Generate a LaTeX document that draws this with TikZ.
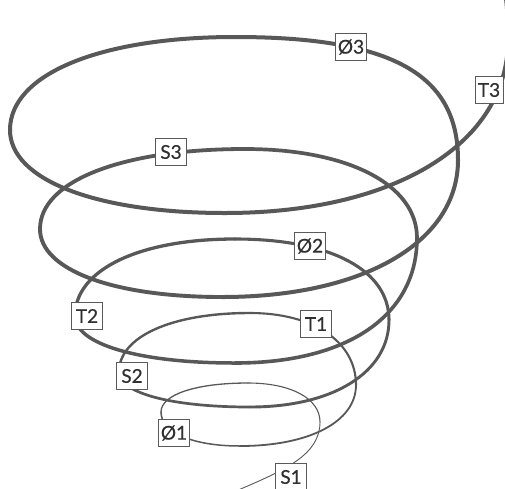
\documentclass[tikz,border=0pt]{standalone}
\usepackage{fontspec}
\setmainfont{Lato}
\newfontfamily\lblfont[FakeBold=0.6]{Lato}
\usetikzlibrary{calc}
\definecolor{spiral}{HTML}{585858}
\definecolor{boxline}{HTML}{5A5A5A}
\definecolor{ink}{HTML}{303030}
\newcommand\spseg[5]{\draw[spiralline,line width=#5pt] (#1) .. controls ($(#1)!#4!(#3)$) and ($(#2)!#4!(#3)$) .. (#2);}
\begin{document}
\begin{tikzpicture}[x=1pt,y=-1pt,
  spiralline/.style={draw=spiral,line cap=round,line join=round},
  lbl/.style={draw=boxline,line width=0.9pt,fill=white,text=ink,inner sep=0pt,
    minimum width=31pt,minimum height=27pt,font=\lblfont\fontsize{19}{19}\selectfont}]
\useasboundingbox (0,0) rectangle (505,488);
\clip (0,0) rectangle (505,488);
\fill[white] (0,0) rectangle (505,488);
% quarter points of the spiral
\coordinate (b0) at (236,491);
\coordinate (r1) at (320,422);
\coordinate (t1) at (248,383);
\coordinate (l1) at (161,412);
\coordinate (b1) at (240,446);
\coordinate (r2) at (356,385);
\coordinate (t2) at (250,313);
\coordinate (l2) at (119,372);
\coordinate (b2) at (250,407);
\coordinate (r3) at (389,320);
\coordinate (t3) at (235,239);
\coordinate (l3) at (75,316);
\coordinate (b3) at (235,363);
\coordinate (r4) at (417,238);
\coordinate (t4) at (245,149);
\coordinate (l4) at (40,229);
\coordinate (b4) at (222,297);
\coordinate (r5) at (458,160);
\coordinate (t5) at (235,37);
\coordinate (l5) at (10,130);
\coordinate (b5) at (225,213);
\coordinate (r6) at (508,40);
\coordinate (e) at (503,-20);
% spiral
\draw[spiralline,line width=0.9pt] (b0) .. controls (285,470) and (320,455) .. (r1);
\spseg{r1}{t1}{r1 |- t1}{0.6}{1.1}
\spseg{t1}{l1}{l1 |- t1}{0.6}{1.3}
\spseg{l1}{b1}{l1 |- b1}{0.6}{1.5}
\spseg{b1}{r2}{r2 |- b1}{0.6}{1.8}
\spseg{r2}{t2}{r2 |- t2}{0.6}{2.1}
\spseg{t2}{l2}{l2 |- t2}{0.6}{2.4}
\spseg{l2}{b2}{l2 |- b2}{0.6}{2.7}
\spseg{b2}{r3}{r3 |- b2}{0.6}{2.9}
\spseg{r3}{t3}{r3 |- t3}{0.62}{3.1}
\spseg{t3}{l3}{l3 |- t3}{0.6}{3.3}
\spseg{l3}{b3}{l3 |- b3}{0.6}{3.5}
\spseg{b3}{r4}{r4 |- b3}{0.62}{3.6}
\spseg{r4}{t4}{r4 |- t4}{0.6}{3.7}
\spseg{t4}{l4}{l4 |- t4}{0.6}{3.8}
\spseg{l4}{b4}{l4 |- b4}{0.6}{3.9}
\spseg{b4}{r5}{r5 |- b4}{0.6}{4.0}
\spseg{r5}{t5}{r5 |- t5}{0.7}{4.0}
\spseg{t5}{l5}{l5 |- t5}{0.6}{4.0}
\spseg{l5}{b5}{l5 |- b5}{0.6}{4.0}
\spseg{b5}{r6}{r6 |- b5}{0.6}{4.0}
\draw[spiralline,line width=4pt] (r6) .. controls (508,10) and (506,-5) .. (e);
% labels
\node[lbl] (O3) at (351,47) {Ø3};
\node[lbl,minimum width=28pt] (T3) at (489,90) {T3};
\node[lbl] (S3) at (171,152) {S3};
\node[lbl] (O2) at (310,246) {Ø2};
\node[lbl] (T2) at (87,316) {T2};
\node[lbl] (T1) at (316,324) {T1};
\node[lbl] (S2) at (132,376) {S2};
\node[lbl] (O1) at (174,433) {Ø1};
\node[lbl] (S1) at (291,477) {S1};
\end{tikzpicture}
\end{document}
